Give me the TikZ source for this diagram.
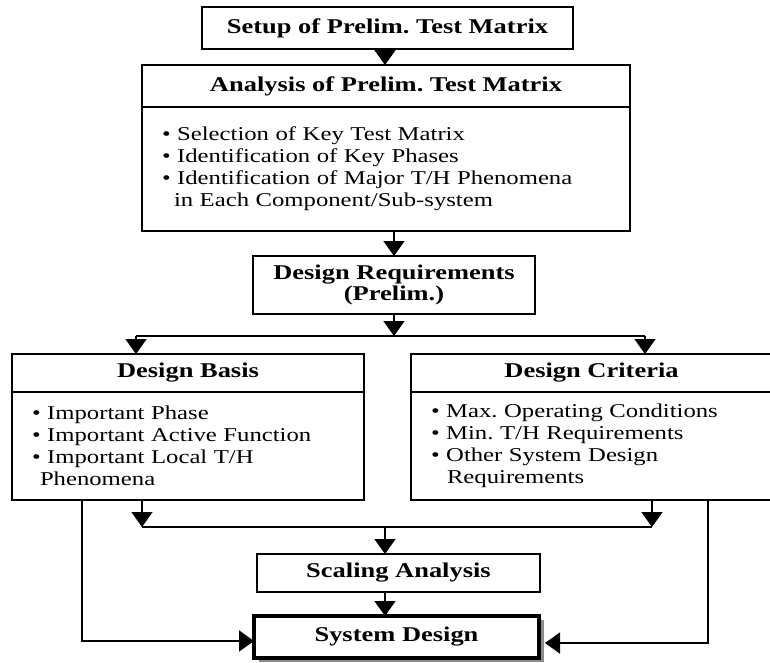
\documentclass[tikz,border=0pt]{standalone}
\usepackage{fontspec}
\setmainfont{Liberation Serif}[FakeStretch=1.26]
\usetikzlibrary{arrows.meta,calc,shadows}
\frenchspacing

\begin{document}
\begin{tikzpicture}[x=1pt, y=-1pt, line width=1.6pt,
      headbox/.style={draw, inner sep=0pt, outer sep=0pt, align=center,
        font=\fontsize{21}{21}\selectfont\bfseries},
      bodybox/.style={draw, inner xsep=20pt, inner ysep=0pt, outer sep=0pt,
        align=left, font=\fontsize{19.6}{22}\selectfont},
      arr/.style={-{Triangle[width=21pt, length=15pt]}}]
      \useasboundingbox (0,0) rectangle (770,662);
      % top chain
      \node[headbox, minimum width=371, minimum height=42] (setup) at (387.5,28)
      {Setup of Prelim. Test Matrix};
      \node[headbox, minimum width=488, minimum height=42] (anaHead) at (386,86)
      {Analysis of Prelim. Test Matrix};
      \node[bodybox, text width=448, minimum height=124] (anaBody) at (386,169)
      {\textbullet\ Selection of Key Test Matrix\\
        \textbullet\ Identification of Key Phases\\
        \textbullet\ Identification of Major T/H Phenomena\\
        \hspace*{12pt}in Each Component/Sub-system};
      \node[headbox, minimum width=282, minimum height=58] (dreq) at (394,285)
      {Design Requirements\\(Prelim.)};
      % two branches
      \node[headbox, minimum width=352, minimum height=38] (basisHead) at (188,373)
      {Design Basis};
      \node[bodybox, text width=312, minimum height=108] (basisBody) at (188,446)
      {\textbullet\ Important Phase\\
        \textbullet\ Important Active Function\\
        \textbullet\ Important Local T/H\\
        \hspace*{8pt}Phenomena};
      \node[headbox, minimum width=361, minimum height=38] (critHead) at (591.5,373)
      {Design Criteria};
      \node[bodybox, text width=321, minimum height=108] (critBody) at (591.5,446)
      {\textbullet\ Max. Operating Conditions\\
        \textbullet\ Min. T/H Requirements\\
        \textbullet\ Other System Design\\
        \hspace*{16pt}Requirements};
      % bottom
      \node[headbox, minimum width=283, minimum height=38] (scal) at (398.5,573)
      {Scaling Analysis};
      \node[headbox, line width=3.2pt, fill=white, minimum width=285, minimum height=42,
        drop shadow={shadow xshift=5pt, shadow yshift=-4pt, opacity=1, fill=black!45}]
      (sysd) at (396.5,637) {System Design};

      \coordinate (split) at (394,336);
      \coordinate (splitL) at (136,336);
      \coordinate (splitR) at (645,336);
      \coordinate (joinL) at (142,527);
      \coordinate (joinR) at (652,527);
      \coordinate (join) at (385,527);
      \coordinate (cornL) at (82,641);
      \coordinate (cornR) at (708,643);

      \draw[arr] (setup.south -| 385,0) -- (anaHead.north -| 385,0);
      \draw[arr] (anaBody.south -| dreq) -- (dreq.north);
      \draw[arr] (dreq.south) -- (split);
      \draw (splitL) -- (splitR);
      \draw[arr] (splitL) -- (splitL |- basisHead.north);
      \draw[arr] (splitR) -- (splitR |- critHead.north);
      \draw[arr] (joinL |- basisBody.south) -- (joinL);
      \draw[arr] (joinR |- critBody.south) -- (joinR);
      \draw (joinL) -- (joinR);
      \draw[arr] (join) -- (join |- scal.north);
      \draw[arr] (scal.south -| join) -- (sysd.north -| join);
      \draw[arr] (cornL |- basisBody.south) -- (cornL) -- (cornL -| sysd.west);
      \draw[arr] (cornR |- critBody.south) -- (cornR)
      -- ($(sysd.east |- cornR)+(6,0)$);
    \end{tikzpicture}
\end{document}
